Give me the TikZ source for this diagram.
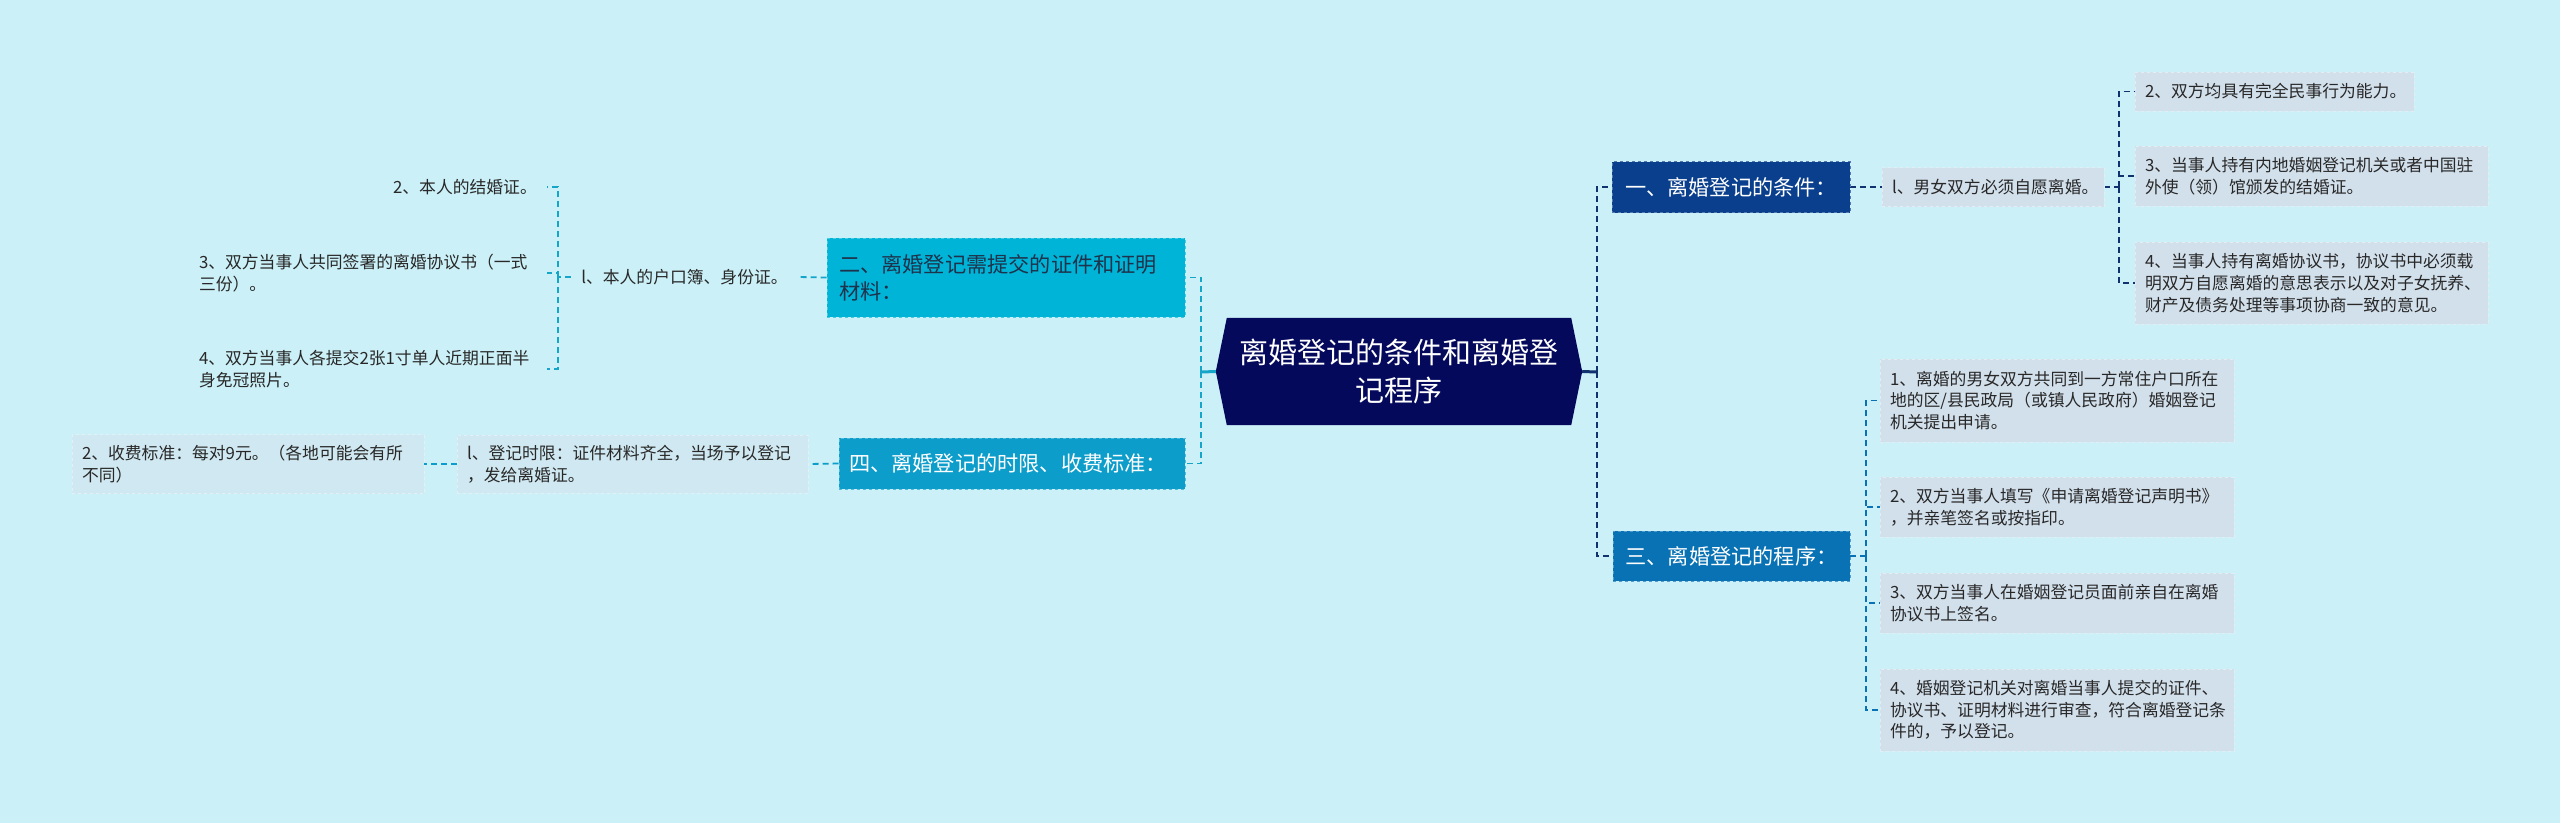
\documentclass[tikz,border=0pt]{standalone}
\usepackage{fontspec}
\newfontfamily\cjk{Noto Sans CJK SC}
\usetikzlibrary{backgrounds}
\definecolor{bgc}{RGB}{203,240,247}
\definecolor{rootc}{RGB}{4,9,92}
\definecolor{onec}{RGB}{9,63,140}
\definecolor{threec}{RGB}{9,114,180}
\definecolor{twoc}{RGB}{0,180,215}
\definecolor{fourc}{RGB}{13,157,203}
\definecolor{leafc}{RGB}{210,224,236}
\definecolor{leafb}{RGB}{208,232,241}
\definecolor{textc}{RGB}{40,40,40}
\definecolor{darktext}{RGB}{30,50,75}
\definecolor{lineR}{RGB}{16,50,110}
\definecolor{lineL}{RGB}{20,165,200}
\begin{document}
\begin{tikzpicture}[x=1pt,y=-1pt,
  box/.style={rectangle, inner xsep=10pt, inner ysep=0pt, align=left},
  leaffont/.style={font=\cjk\fontsize{16.8pt}{21.7pt}\selectfont},
  leaf/.style={box, leaffont, fill=leafc, text=textc, draw=leafc!60!white, dashed, line width=0.6pt},
  leafl/.style={box, leaffont, fill=leafb, text=textc, draw=leafb!60!white, dashed, line width=0.6pt},
  plain/.style={box, leaffont, text=textc},
  mainbox/.style={box, font=\cjk\fontsize{21.2pt}{26.7pt}\selectfont, dashed, line width=0.8pt},
  rootn/.style={rectangle, inner sep=0pt, align=center, text=white, font=\cjk\fontsize{29pt}{38pt}\selectfont},
  conn/.style={dashed, dash pattern=on 6pt off 4pt, line width=1.8pt},
  rconn/.style={conn, draw=lineR},
  tconn/.style={conn, draw=threec},
  lconn/.style={conn, draw=lineL},
  fconn/.style={conn, draw=fourc}
]
\useasboundingbox (0,0) rectangle (2560,823);

% root
\node[rootn, minimum width=366pt, minimum height=107pt] (root) at (1399,371.5) {离婚登记的条件和离婚登\\记程序};

% main boxes
\node[mainbox, fill=onec, draw=onec!70!white, text=white, minimum width=238pt, minimum height=51pt] (n1) at (1731,187) {一、离婚登记的条件：};
\node[mainbox, fill=threec, draw=threec!70!white, text=white, minimum width=237pt, minimum height=50pt] (n3) at (1731.5,556) {三、离婚登记的程序：};
\node[mainbox, fill=twoc, draw=twoc!70!white, text=darktext, text width=334pt, inner xsep=12pt, minimum height=79pt] (n2) at (1006,277.5) {二、离婚登记需提交的证件和证明\\材料：};
\node[mainbox, fill=fourc, draw=fourc!70!white, text=white, text width=326pt, minimum height=51pt] (n4) at (1012,463.5) {四、离婚登记的时限、收费标准：};

% right leaves, branch one
\node[leaf, text width=202pt, minimum height=39pt] (a1) at (1993,187) {l、男女双方必须自愿离婚。};
\node[leaf, text width=259pt, minimum height=39pt] (a2) at (2274.5,91.5) {2、双方均具有完全民事行为能力。};
\node[leaf, text width=333pt, minimum height=60pt] (a3) at (2311.5,176) {3、当事人持有内地婚姻登记机关或者中国驻\\外使（领）馆颁发的结婚证。};
\node[leaf, text width=333pt, minimum height=82pt] (a4) at (2311.5,283) {4、当事人持有离婚协议书，协议书中必须载\\明双方自愿离婚的意思表示以及对子女抚养、\\财产及债务处理等事项协商一致的意见。};

% right leaves, branch three
\node[leaf, text width=334pt, minimum height=83pt] (b1) at (2057,400.5) {1、离婚的男女双方共同到一方常住户口所在\\地的区/县民政局（或镇人民政府）婚姻登记\\机关提出申请。};
\node[leaf, text width=334pt, minimum height=60pt] (b2) at (2057,507) {2、双方当事人填写《申请离婚登记声明书》\\，并亲笔签名或按指印。};
\node[leaf, text width=334pt, minimum height=60pt] (b3) at (2057,603) {3、双方当事人在婚姻登记员面前亲自在离婚\\协议书上签名。};
\node[leaf, text width=334pt, minimum height=82pt] (b4) at (2057,710) {4、婚姻登记机关对离婚当事人提交的证件、\\协议书、证明材料进行审查，符合离婚登记条\\件的，予以登记。};

% left leaves, branch two
\node[plain, minimum height=39pt] (c1) at (684.5,277) {l、本人的户口簿、身份证。};
\node[plain, anchor=east, minimum height=39pt] (c2) at (547,187) {2、本人的结婚证。};
\node[plain, text width=338pt, minimum height=60pt] (c3) at (368,273) {3、双方当事人共同签署的离婚协议书（一式\\三份）。};
\node[plain, text width=338pt, minimum height=60pt] (c4) at (368,369) {4、双方当事人各提交2张1寸单人近期正面半\\身免冠照片。};

% left leaves, branch four
\node[leafl, text width=331pt, minimum height=58pt] (d1) at (632.5,464) {l、登记时限：证件材料齐全，当场予以登记\\，发给离婚证。};
\node[leafl, text width=332pt, minimum height=59pt] (d2) at (248,464) {2、收费标准：每对9元。（各地可能会有所\\不同）};

% spine coordinates
\coordinate (sR) at (1597,372);
\coordinate (sL) at (1201,372);
\coordinate (s1) at (2119,187);
\coordinate (s3) at (1866,556);
\coordinate (s2) at (558,277);

\begin{scope}[on background layer]
\fill[bgc] (0,0) rectangle (2560,823);
\fill[rootc] ([xshift=11pt]root.north west) -- ([xshift=-11pt]root.north east) -- (root.east) -- ([xshift=-11pt]root.south east) -- ([xshift=11pt]root.south west) -- (root.west) -- cycle;

% root stubs
\draw[draw=lineR, line width=3pt] (root.east) -- (sR);
\draw[draw=lineL, line width=3pt] (root.west) -- (sL);

% right side
\draw[rconn] (sR) |- (n1.west);
\draw[rconn] (sR) |- (n3.west);
\draw[rconn] (n1.east) -- (a1.west);
\draw[rconn] (a1.east) -- (s1);
\draw[rconn] (s1) |- (a2.west);
\draw[rconn] (s1) |- (a3.west);
\draw[rconn] (s1) |- (a4.west);
\draw[tconn] (n3.east) -- (s3);
\draw[tconn] (s3) |- (b1.west);
\draw[tconn] (s3) |- (b2.west);
\draw[tconn] (s3) |- (b3.west);
\draw[tconn] (s3) |- (b4.west);

% left side
\draw[lconn] (sL) |- (n2.east);
\draw[lconn] (sL) |- (n4.east);
\draw[lconn] (n2.west) -- (c1.east);
\draw[lconn] (c1.west) -- (s2);
\draw[lconn] (s2) |- (c2.east);
\draw[lconn] (s2) |- (c3.east);
\draw[lconn] (s2) |- (c4.east);
\draw[fconn] (n4.west) -- (d1.east);
\draw[fconn] (d1.west) -- (d2.east);
\end{scope}
\end{tikzpicture}
\end{document}
